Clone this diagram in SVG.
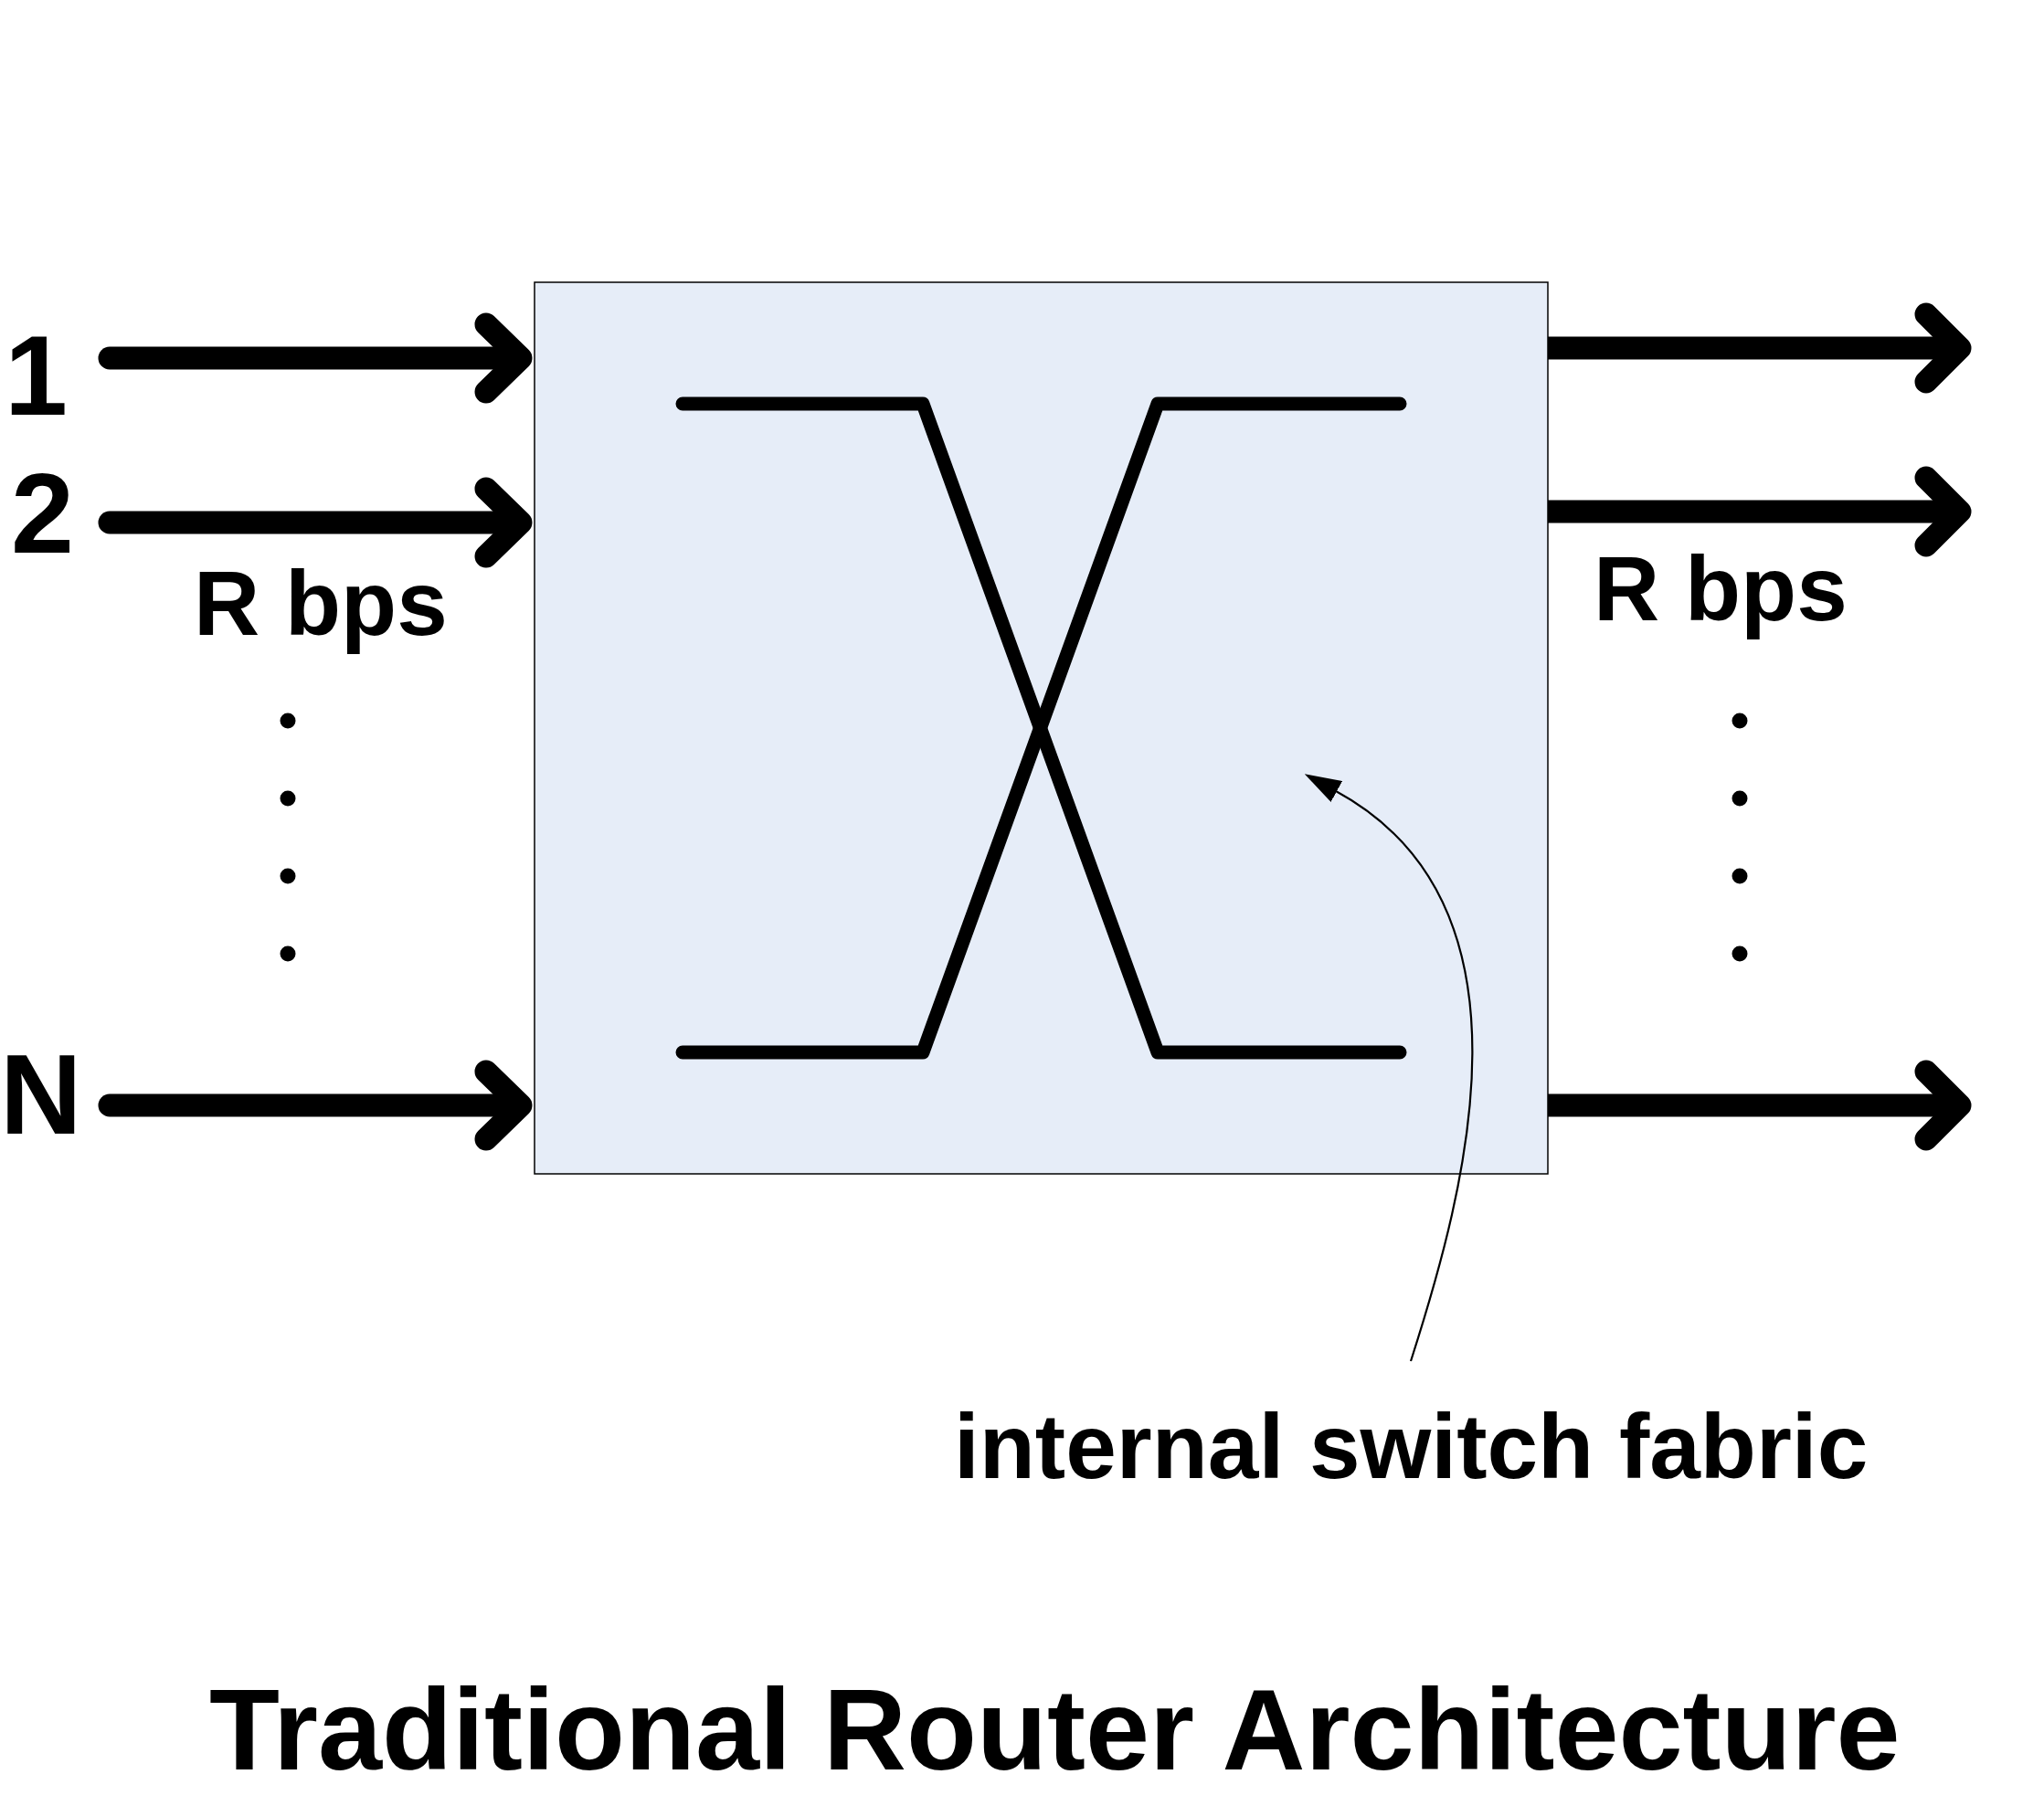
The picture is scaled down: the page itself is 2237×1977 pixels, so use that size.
<svg xmlns="http://www.w3.org/2000/svg" width="2237" height="1977" viewBox="0 0 2237 1977">
<style>
.arrow{fill:none;stroke:#000;stroke-width:25;stroke-linecap:round;stroke-linejoin:round}
.stem{fill:none;stroke:#000;stroke-width:25}
.xline{fill:none;stroke:#000;stroke-width:15;stroke-linecap:round;stroke-linejoin:round}
.lbl{font-family:"Liberation Sans",Arial,sans-serif;font-weight:bold;fill:#000}
.dot{fill:#000}
</style>
<defs>
<marker id="tri" markerUnits="userSpaceOnUse" viewBox="0 0 40 26" refX="1" refY="13" markerWidth="40" markerHeight="26" orient="auto">
<path d="M0,0 L40,13 L0,26 Z" fill="#000"/>
</marker>
</defs>
<rect width="2237" height="1977" fill="#fff"/>
<g id="fabric">
<rect x="585" y="309" width="1109" height="976" fill="#E6EDF8" stroke="#000" stroke-width="1.5"/>
<polyline class="xline" points="747,442 1010,442 1267,1152 1532,1152"/>
<polyline class="xline" points="747,1152 1010,1152 1267,442 1532,442"/>
</g>
<g id="inputs">
<g id="in1">
<line class="stem" x1="120" y1="392" x2="566" y2="392" stroke-linecap="round"/>
<polyline class="arrow" points="532,355 570,392 532,429"/>
</g>
<g id="in2">
<line class="stem" x1="120" y1="572" x2="566" y2="572" stroke-linecap="round"/>
<polyline class="arrow" points="532,535 570,572 532,609"/>
</g>
<g id="inN">
<line class="stem" x1="120" y1="1210" x2="566" y2="1210" stroke-linecap="round"/>
<polyline class="arrow" points="532,1173 570,1210 532,1247"/>
</g>
</g>
<g id="outputs">
<g id="out1">
<line class="stem" x1="1694" y1="381" x2="2140" y2="381"/>
<polyline class="arrow" points="2108,344 2145,381 2108,418"/>
</g>
<g id="out2">
<line class="stem" x1="1694" y1="560" x2="2140" y2="560"/>
<polyline class="arrow" points="2108,523 2145,560 2108,597"/>
</g>
<g id="outN">
<line class="stem" x1="1694" y1="1210" x2="2140" y2="1210"/>
<polyline class="arrow" points="2108,1173 2145,1210 2108,1247"/>
</g>
</g>
<g id="dots-left">
<circle class="dot" cx="315" cy="789" r="8.5"/>
<circle class="dot" cx="315" cy="874" r="8.5"/>
<circle class="dot" cx="315" cy="959" r="8.5"/>
<circle class="dot" cx="315" cy="1044" r="8.5"/>
</g>
<g id="dots-right">
<circle class="dot" cx="1904" cy="789" r="8.5"/>
<circle class="dot" cx="1904" cy="874" r="8.5"/>
<circle class="dot" cx="1904" cy="959" r="8.5"/>
<circle class="dot" cx="1904" cy="1044" r="8.5"/>
</g>
<g id="connectors">
<path d="M1544,1490 C1605,1300 1690,990 1462,866" fill="none" stroke="#000" stroke-width="2.2" marker-end="url(#tri)"/>
</g>
<g id="labels">
<text class="lbl" x="5" y="454" font-size="124">1</text>
<text class="lbl" x="12" y="605" font-size="124">2</text>
<text class="lbl" x="0" y="1241" font-size="124">N</text>
<text class="lbl" x="212" y="695" font-size="100">R bps</text>
<text class="lbl" x="1744" y="679" font-size="100">R bps</text>
<text class="lbl" x="1044" y="1618" font-size="100">internal switch fabric</text>
<text class="lbl" x="229" y="1937" font-size="126">Traditional Router Architecture</text>
</g>
</svg>
